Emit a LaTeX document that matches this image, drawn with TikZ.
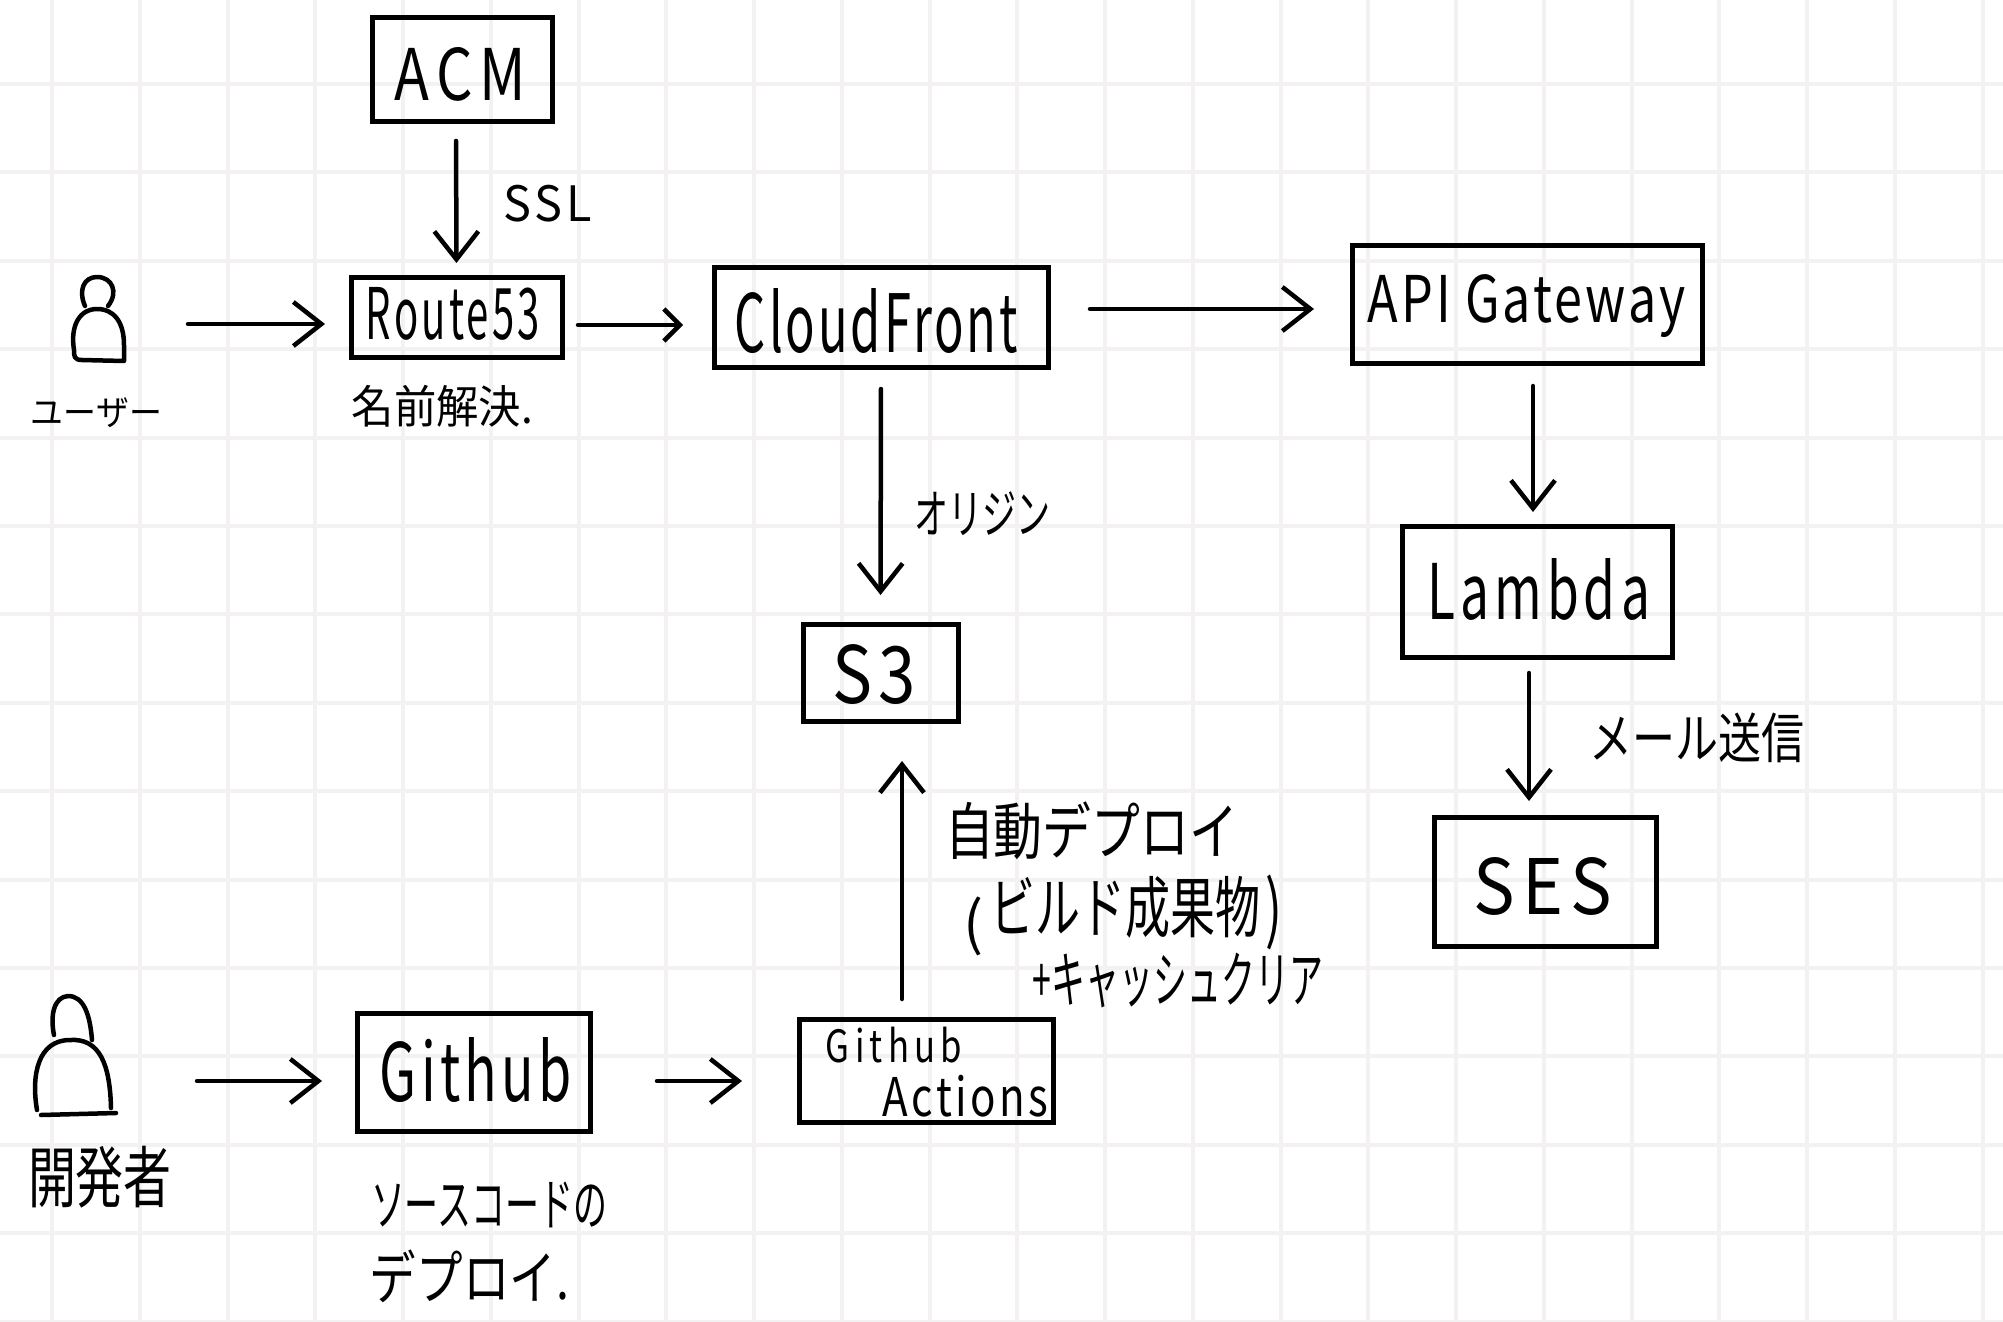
\documentclass[tikz,border=0pt]{standalone}
\usepackage{fontspec}
\usepackage{graphicx}
\setmainfont{Noto Sans CJK JP}
\usetikzlibrary{arrows.meta}
\definecolor{gridc}{HTML}{F3F1F1}
\newcommand{\wide}[1]{\addfontfeatures{LetterSpace=#1}}
\tikzset{
  box/.style={draw=black,line width=5pt,minimum width=#1,inner sep=0pt,outer sep=0pt,fill=none},
  lab/.style={inner sep=0pt,outer sep=0pt},
  gridline/.style={draw=gridc,line width=4pt},
  figure/.style={draw=black,line width=4.5pt,line cap=round,line join=round},
  conn/.style={draw=black,line width=4.5pt,line cap=round,line join=round},
  tipbig/.style={-{Straight Barb[length=28pt,width=44pt,line width=4.5pt]}},
  tipsmall/.style={-{Straight Barb[length=16pt,width=32pt,line width=4.5pt]}}
}
% label fitted into the pixel bbox x1,y1,x2,y2
\newcommand{\lbl}[6][]{%
  \pgfmathsetmacro{\lw}{#4-#2}\pgfmathsetmacro{\lh}{#5-#3}%
  \node[lab] (#1) at ({(#2+#4)/2},{(#3+#5)/2}) {\resizebox*{\lw pt}{\lh pt}{#6}};%
}
% box by pixel bbox
\newcommand{\bx}[5]{%
  \pgfmathsetmacro{\bw}{#4-#2}\pgfmathsetmacro{\bh}{#5-#3}%
  \node[box=\bw pt,minimum height=\bh pt] (#1) at ({(#2+#4)/2},{(#3+#5)/2}) {};%
}
\begin{document}
\begin{tikzpicture}[x=1pt,y=-1pt]
\useasboundingbox (0,0) rectangle (2003,1322);
\fill[white] (0,0) rectangle (2003,1322);
% grid
\foreach \k in {0,...,22} {\pgfmathsetmacro{\gx}{52+87.75*\k}\draw[gridline] (\gx,0) -- (\gx,1322);}
\foreach \k in {0,...,14} {\pgfmathsetmacro{\gy}{84+88.4*\k}\draw[gridline] (0,\gy) -- (2003,\gy);}
% boxes
\bx{acm}{372}{18}{552}{121}
\bx{r53}{351}{277}{562}{357}
\bx{cf}{714}{267}{1048}{367}
\bx{api}{1352}{245}{1702}{363}
\bx{lam}{1402}{526}{1672}{657}
\bx{s3}{803}{624}{958}{721}
\bx{ses}{1434}{817}{1656}{946}
\bx{gh}{357}{1013}{590}{1131}
\bx{act}{799}{1019}{1053}{1122}
% box texts
\lbl[tacm]{395}{47}{526}{101}{\wide{12}ACM}
\lbl[tr53]{366}{287}{540}{340}{\wide{8}Route53}
\lbl[tcf]{735}{289}{1018}{354}{\wide{6}CloudFront}
\lbl[tapi]{1368}{275}{1686}{338}{\wide{6}API Gateway}
\lbl[tlam]{1427}{558}{1650}{620}{\wide{10}Lambda}
\lbl[ts3]{832}{645}{916}{705}{\wide{10}S3}
\lbl[tses]{1474}{857}{1612}{915}{\wide{10}SES}
\lbl[tgh]{380}{1038}{572}{1103}{\wide{8}Github}
\lbl[tag]{826}{1027}{962}{1063}{\wide{15}Github}
\lbl[tact]{883}{1075}{1048}{1117}{\wide{8}Actions}
% other labels
\lbl[lssl]{504}{185}{592}{222}{\wide{8}SSL}
\lbl[luser]{31}{398}{162}{428}{ユーザー}
\lbl[lname]{352}{385}{533}{427}{名前解決.}
\lbl[lorig]{914}{492}{1050}{536}{オリジン}
\lbl[lmail]{1589}{713}{1804}{763}{メール送信}
\lbl[ldep]{945}{802}{1238}{860}{自動デプロイ}
\lbl[lparl]{963}{897}{983}{956}{(}
\lbl[lbuild]{990}{876}{1260}{938}{ビルド成果物}
\lbl[lparr]{1265}{875}{1282}{950}{)}
\lbl[lclear]{1033}{953}{1323}{1008}{+キャッシュクリア}
\lbl[lsrc]{371}{1182}{607}{1228}{ソースコードの}
\lbl[ldep2]{370}{1250}{569}{1303}{デプロイ.}
\lbl[ldev]{28}{1146}{172}{1208}{開発者}
% persons
\draw[figure] (85,306) .. controls (78,290) and (84,277) .. (97,277) .. controls (112,277) and (119,292) .. (108,306);
\draw[figure] (74,350) .. controls (70,325) and (80,309) .. (97,309) .. controls (114,309) and (124,322) .. (124,345) -- (124,361) -- (82,360) .. controls (74,360) and (74,356) .. (74,350);
\draw[figure] (54,1035) .. controls (50,1015) and (54,997) .. (68,996) .. controls (84,996) and (90,1015) .. (92,1040);
\draw[figure] (37,1110) .. controls (31,1075) and (38,1040) .. (70,1040) .. controls (100,1038) and (110,1065) .. (111,1108);
\draw[figure] (41,1115) -- (116,1113);
\coordinate (user) at (124,324);
\coordinate (dev) at (112,1081);
% connectors
\draw[conn,tipbig,shorten <=64pt,shorten >=26pt] (user) -- ([yshift=-7pt]r53.west);
\draw[conn,tipsmall,shorten <=16pt,shorten >=31pt] ([yshift=-8pt]r53.east) -- ([yshift=-8pt]cf.west);
\draw[conn,tipbig,shorten <=42pt,shorten >=38pt] ([yshift=8pt]cf.east) -- ([yshift=-5pt]api.west);
\draw[conn,tipbig,shorten <=20pt,shorten >=14pt] ([xshift=-6pt]acm.south) -- (r53.north);
\draw[conn,tipbig,shorten <=22pt,shorten >=29pt] (cf.south) -- (s3.north);
\draw[conn,tipbig,shorten <=23pt,shorten >=14pt] ([xshift=6pt]api.south) -- ([xshift=-4pt]lam.north);
\draw[conn,tipbig,shorten <=16pt,shorten >=16pt] ([xshift=-8pt]lam.south) -- ([xshift=-16pt]ses.north);
\draw[conn,tipbig,shorten <=85pt,shorten >=35pt] (dev) -- ([yshift=-9pt]gh.west);
\draw[conn,tipbig,shorten <=67pt,shorten >=57pt] ([yshift=-9pt]gh.east) -- ([yshift=-10.5pt]act.west);
\draw[conn,tipbig,shorten <=20pt,shorten >=40pt] ([xshift=-24pt]act.north) -- ([xshift=21.5pt]s3.south);
\end{tikzpicture}
\end{document}
